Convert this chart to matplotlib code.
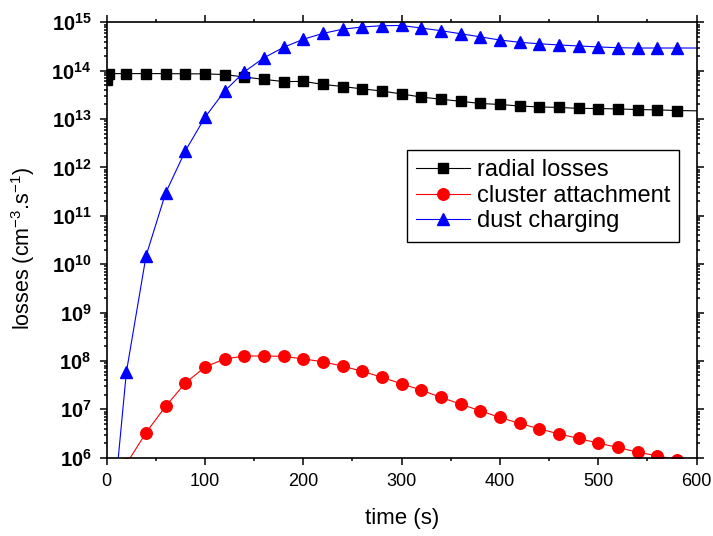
"""Losses vs time: radial losses, cluster attachment, dust charging (log scale)."""
import numpy as np, matplotlib; matplotlib.use("Agg")
import matplotlib.pyplot as plt
from matplotlib.ticker import MultipleLocator, LogLocator, FuncFormatter, NullFormatter

plt.rcParams.update({"font.family": "Liberation Sans", "font.size": 13,
                     "mathtext.fontset": "custom", "mathtext.rm": "Liberation Sans",
                     "mathtext.it": "Liberation Sans:italic", "mathtext.bf": "Liberation Sans:bold"})

# data (markers every 20 s, line continues to 600 s)
time_radial = [0, 2, 20, 40, 60, 80, 100, 120, 140, 160, 180, 200, 220, 240, 260, 280, 300,
               320, 340, 360, 380, 400, 420, 440, 460, 480, 500, 520, 540, 560, 580, 600]
radial = [6.3e13, 8.7e13, 8.7e13, 8.7e13, 8.7e13, 8.6e13, 8.6e13, 8.3e13, 7.4e13, 6.6e13,
          5.95e13, 6.0e13, 5.2e13, 4.7e13, 4.2e13, 3.8e13, 3.3e13, 2.85e13, 2.57e13, 2.33e13,
          2.1e13, 2.0e13, 1.86e13, 1.78e13, 1.74e13, 1.66e13, 1.65e13, 1.62e13, 1.57e13,
          1.55e13, 1.5e13, 1.48e13]
time_s = [0, 20, 40, 60, 80, 100, 120, 140, 160, 180, 200, 220, 240, 260, 280, 300,
          320, 340, 360, 380, 400, 420, 440, 460, 480, 500, 520, 540, 560, 580, 600]
cluster = [1e4, 7.4e5, 3.3e6, 1.16e7, 3.5e7, 7.5e7, 1.1e8, 1.26e8, 1.27e8, 1.24e8, 1.1e8,
           9.6e7, 7.8e7, 6.1e7, 4.6e7, 3.35e7, 2.5e7, 1.76e7, 1.28e7, 9.3e6, 6.8e6, 5.1e6,
           3.95e6, 3.1e6, 2.5e6, 2.0e6, 1.63e6, 1.3e6, 1.09e6, 9.1e5, 7.6e5]
dust = [3e3, 5.9e7, 1.48e10, 3.0e11, 2.2e12, 1.09e13, 3.8e13, 9.5e13, 1.85e14, 3.04e14,
        4.46e14, 5.9e14, 7.2e14, 8.0e14, 8.5e14, 8.6e14, 7.6e14, 6.7e14, 5.8e14, 5.0e14,
        4.3e14, 3.86e14, 3.6e14, 3.4e14, 3.24e14, 3.1e14, 2.98e14, 2.94e14, 2.94e14,
        2.94e14, 2.94e14]

fig = plt.figure(figsize=(7.13, 5.36), dpi=100)
ax = fig.add_axes([0.1497, 0.1461, 0.8272, 0.8123])

ax.plot(time_radial, radial, "-", color="black", lw=0.8, marker="s", ms=7.5,
        markevery=list(range(len(time_radial) - 1)), label="radial losses")
ax.plot(time_s, cluster, "-", color="red", lw=0.8, marker="o", ms=8.3,
        markevery=list(range(len(time_s) - 1)), label="cluster attachment")
ax.plot(time_s, dust, "-", color="blue", lw=0.8, marker="^", ms=9.3,
        markevery=list(range(len(time_s) - 1)), label="dust charging")

ax.set_yscale("log")
ax.set_xlim(0, 600); ax.set_ylim(1e6, 1e15)
ax.xaxis.set_major_locator(MultipleLocator(100))
ax.xaxis.set_minor_locator(MultipleLocator(50))
ax.yaxis.set_major_locator(LogLocator(base=10, numticks=20))
ax.yaxis.set_minor_locator(LogLocator(base=10, subs=np.arange(2, 10), numticks=20))
ax.yaxis.set_major_formatter(FuncFormatter(lambda v, p: r"$\mathbf{10^{%d}}$" % round(np.log10(v))))
ax.yaxis.set_minor_formatter(NullFormatter())
ax.tick_params(which="both", direction="out", top=True, right=True, width=1.1)
ax.tick_params(which="major", length=5)
ax.tick_params(which="minor", length=2.5)
ax.tick_params(axis="x", labelsize=13, pad=6)
ax.tick_params(axis="y", labelsize=14.5, pad=6)
for s in ax.spines.values():
    s.set_linewidth(1.2)

ax.set_xlabel("time (s)", fontsize=16, labelpad=13)
ax.set_ylabel(r"losses (cm$^{-3}$.s$^{-1}$)", fontsize=15.5)
ax.yaxis.set_label_coords(-0.118, 0.48)

leg = ax.legend(loc="upper left", bbox_to_anchor=(0.509, 0.707), borderaxespad=0,
                fontsize=17, frameon=True, fancybox=False, framealpha=1, facecolor="white",
                edgecolor="black", handlelength=2.25, labelspacing=0.15,
                borderpad=0.4, handletextpad=0.3)
leg.get_frame().set_linewidth(1.0)

fig.savefig("out.png", dpi=100)
plt.close(fig)
